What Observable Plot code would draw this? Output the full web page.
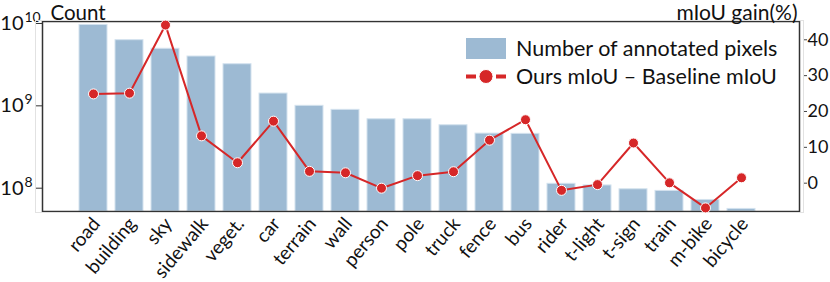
<!DOCTYPE html>
<html><head><meta charset="utf-8">
<script src="https://cdn.jsdelivr.net/npm/d3@7"></script>
<script src="https://cdn.jsdelivr.net/npm/@observablehq/plot@0.6"></script>
<style>
body{margin:0;background:#fff;font-family:Lato,sans-serif}
#wrap{position:relative;width:830px;height:282px;overflow:hidden}
#wrap > svg{position:absolute;left:0;top:0}
</style></head><body><div id="wrap"></div>
<script>
// ---- data ----
const categories = ["road","building","sky","sidewalk","veget.","car","terrain","wall","person","pole","truck","fence","bus","rider","t-light","t-sign","train","m-bike","bicycle"];
const pixelCounts = [9.6e9,6.27e9,4.93e9,3.97e9,3.2e9,1.41e9,1.0e9,8.94e8,6.87e8,6.87e8,5.81e8,4.6e8,4.57e8,1.13e8,1.08e8,9.7e7,9.27e7,7.2e7,5.6e7];
const miouGain = [24.9,25.1,44.1,13.2,5.7,17.3,3.3,2.9,-1.4,2.1,3.2,12.0,17.7,-2.0,-0.4,11.2,0.1,-6.9,1.5];
const countTicks = [1e8,1e9,1e10];
const countTickExponents = ["8","9","10"];
const gainTicks = [0,10,20,30,40];
const legendLabels = ["Number of annotated pixels","Ours mIoU \u2013 Baseline mIoU"];

// ---- styles / layout ----
const W = 830, H = 282;
const barColor = "#9dbad3";
const lineColor = "#d62728";
const font = "Lato, sans-serif";
const xFirst = 85.3, xLast = 749.5;
const step = (xLast - xFirst) / (categories.length - 1);
const countDomain = [Math.pow(10, 7.717), Math.pow(10, 10.024)];

const rows = categories.map((c, i) => ({cat: c, count: pixelCounts[i], gain: miouGain[i]}));

const base = Plot.plot({
  width: W, height: H,
  marginLeft: 42, marginRight: 31, marginTop: 21, marginBottom: 71,
  style: {fontFamily: font, background: "transparent", color: "#111", overflow: "visible"},
  x: {type: "band", domain: categories, range: [xFirst - step/2, xLast + step/2], paddingInner: 0.214, paddingOuter: 0.107, axis: null},
  y: {type: "log", domain: countDomain, range: [211, 21], axis: null},
  marks: [
    Plot.barY(rows, {x: "cat", y1: countDomain[0], y2: "count", fill: barColor, stroke: "#d3e2ee", strokeWidth: 1}),
    Plot.frame({stroke: "#333", strokeWidth: 1.5}),
    Plot.axisY({ticks: countTicks, tickSize: 6, tickFormat: () => "", label: null, stroke: "#333"}),
    Plot.text(countTicks, {y: d => d, frameAnchor: "left", dx: -19, textAnchor: "end", text: () => "10", fontSize: 20, fill: "#111"}),
    Plot.text(countTicks, {y: d => d, frameAnchor: "left", dx: -18, dy: -6, textAnchor: "start", text: (d, i) => countTickExponents[i], fontSize: 14, fill: "#111"}),
    Plot.text(categories, {x: d => d, frameAnchor: "bottom", dy: 9, dx: 3, rotate: -50, textAnchor: "end", lineAnchor: "middle", text: d => d, fontSize: 19, fill: "#111"}),
    Plot.text(["Count"], {frameAnchor: "top-left", dx: 8, dy: -2, lineAnchor: "bottom", text: d => d, fontSize: 20.5, fill: "#111"})
  ]
});

const over = Plot.plot({
  width: W, height: H,
  marginLeft: 35, marginRight: 27, marginTop: 20, marginBottom: 70,
  style: {fontFamily: font, background: "transparent", color: "#111", overflow: "visible"},
  x: {type: "point", domain: categories, range: [xFirst, xLast], padding: 0, axis: null},
  y: {domain: [-7.9, 45.1], range: [211, 21], axis: null},
  marks: [
    Plot.frame({stroke: "#e2e2e2", strokeWidth: 1}),
    Plot.axisY({anchor: "right", ticks: gainTicks, tickSize: 3, tickPadding: 1, fontSize: 18, label: null, stroke: "#444", fill: "#111"}),
    Plot.line(rows, {x: "cat", y: "gain", stroke: lineColor, strokeWidth: 2}),
    Plot.dot(rows, {x: "cat", y: "gain", r: 5, fill: lineColor, stroke: "white", strokeWidth: 1}),
    Plot.text(["mIoU gain(%)"], {frameAnchor: "top-right", dx: -6, dy: -1, lineAnchor: "bottom", textAnchor: "end", text: d => d, fontSize: 21, fill: "#111"})
  ]
});

const wrap = document.getElementById("wrap");
wrap.appendChild(base);
wrap.appendChild(over);

// legend
const leg = d3.create("svg").attr("width", W).attr("height", H).style("font-family", font);
leg.append("rect").attr("x", 466).attr("y", 38).attr("width", 40).attr("height", 21).attr("fill", barColor);
leg.append("text").attr("x", 516).attr("y", 55.5).attr("font-size", 21.5).attr("fill", "#111").text(legendLabels[0]);
leg.append("line").attr("x1", 466).attr("x2", 506).attr("y1", 76.5).attr("y2", 76.5).attr("stroke", lineColor).attr("stroke-width", 4).attr("stroke-dasharray", "10,0,0,20,10");
leg.append("circle").attr("cx", 486).attr("cy", 76.5).attr("r", 7).attr("fill", lineColor).attr("stroke", "white").attr("stroke-width", 1);
leg.append("text").attr("x", 516).attr("y", 83.5).attr("font-size", 21.5).attr("fill", "#111").text(legendLabels[1]);
wrap.appendChild(leg.node());
</script>
</body></html>
